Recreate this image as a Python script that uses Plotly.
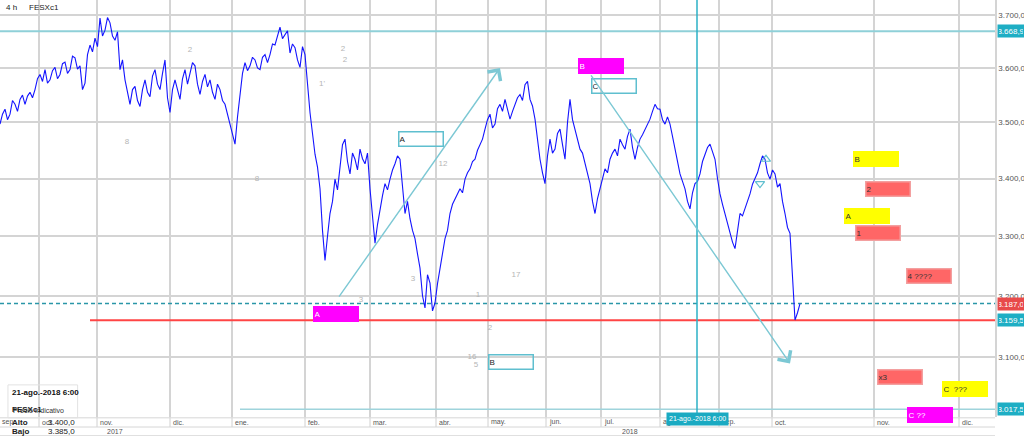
import math
import plotly.graph_objects as go

# ---------------- data ----------------
# price at each step (step = ~1 trading day of 4h bars)
price_step = [3497, 3524, 3515, 3533, 3542, 3533, 3555, 3560, 3588, 3597,
              3578, 3601, 3588, 3611, 3597, 3619, 3604, 3572, 3643, 3656,
              3694, 3671, 3685, 3652, 3597, 3578, 3533, 3566, 3529, 3578,
              3547, 3597, 3560, 3615, 3518, 3578, 3542, 3597, 3588, 3604,
              3551, 3588, 3578, 3542, 3560, 3533, 3497, 3461, 3551, 3610,
              3604, 3615, 3597, 3625, 3625, 3643, 3677, 3662, 3628, 3638,
              3601, 3625, 3518, 3443, 3382, 3259, 3339, 3399, 3417, 3470,
              3408, 3434, 3452, 3426, 3382, 3288, 3347, 3391, 3399, 3426,
              3434, 3339, 3330, 3296, 3246, 3180, 3221, 3188, 3246, 3296,
              3339, 3365, 3382, 3399, 3417, 3434, 3461, 3488, 3515, 3497,
              3533, 3542, 3506, 3533, 3551, 3569, 3542, 3506, 3434, 3391,
              3470, 3452, 3488, 3434, 3542, 3488, 3452, 3426, 3391, 3339,
              3382, 3417, 3434, 3452, 3470, 3452, 3488, 3434, 3470, 3488,
              3506, 3533, 3524, 3497, 3497, 3452, 3408, 3382, 3347, 3391,
              3408, 3443, 3461, 3434, 3373, 3339, 3305, 3279, 3339, 3347,
              3373, 3399, 3426, 3434, 3399, 3408, 3391, 3339, 3305, 3160, 3187]
# intra-step swing (value half-way between two steps)
price_mid = [3515, 3505, 3540, 3520, 3550, 3548, 3545, 3580, 3575, 3572,
             3595, 3580, 3608, 3590, 3622, 3598, 3560, 3625, 3630, 3640,
             3660, 3695, 3660, 3668, 3615, 3555, 3560, 3540, 3560, 3555,
             3585, 3570, 3590, 3545, 3560, 3560, 3580, 3570, 3610, 3570,
             3575, 3565, 3555, 3570, 3540, 3515, 3480, 3510, 3590, 3595,
             3620, 3600, 3620, 3610, 3645, 3660, 3655, 3670, 3645, 3615,
             3640, 3570, 3480, 3420, 3310, 3300, 3360, 3380, 3460, 3430,
             3445, 3415, 3435, 3445, 3330, 3320, 3370, 3380, 3415, 3440,
             3380, 3360, 3310, 3270, 3200, 3235, 3175, 3220, 3270, 3310,
             3355, 3372, 3375, 3410, 3430, 3450, 3470, 3505, 3490, 3525,
             3520, 3525, 3520, 3545, 3540, 3575, 3530, 3470, 3410, 3440,
             3445, 3480, 3460, 3500, 3505, 3470, 3445, 3405, 3360, 3365,
             3400, 3410, 3445, 3440, 3460, 3475, 3455, 3455, 3478, 3495,
             3520, 3525, 3505, 3510, 3475, 3430, 3395, 3360, 3375, 3395,
             3430, 3455, 3445, 3400, 3355, 3320, 3290, 3310, 3335, 3360,
             3390, 3410, 3440, 3410, 3415, 3385, 3360, 3315, 3240, 3172]

month_pos = [7.8, 19.4, 34, 46.4, 61, 74, 87.2, 97.6, 109.2, 120.2, 132, 143.8, 154.4, 174.8, 191.8]
month_lbl = ["oct.", "nov.", "dic.", "ene.", "feb.", "mar.", "abr.", "may.", "jun.", "jul.",
             "ago.", "sep.", "oct.", "nov.", "dic."]
year_start = 46.4
year_pos = [23.0, 125.9]
year_lbl = ["2017", "2018"]

price_ticks = [3100, 3200, 3300, 3400, 3500, 3600, 3700]
price_tick_txt = ["3.100,0", "3.200,0", "3.300,0", "3.400,0", "3.500,0", "3.600,0", "3.700,0"]

level_top = 3668.9
level_last = 3187.0
level_low = 3159.5
level_bottom = 3017.5

cross_x = 139.4
cross_lbl = "21-ago.-2018 6:00"

# labelled boxes: (x centre, price centre, text, fill, border, text colour)
boxes = [
    (67.1, 3170.2, "A", "#ff00ff", "#ff00ff", "white"),
    (120.2, 3603.7, "B", "#ff00ff", "#ff00ff", "white"),
    (84.1, 3471.0, "A", "rgba(255,255,255,0)", "#5fbfcf", "#222"),
    (122.7, 3566.7, "C", "rgba(255,255,255,0)", "#5fbfcf", "#222"),
    (102.1, 3092.3, "B", "rgba(255,255,255,0)", "#5fbfcf", "#222"),
    (175.1, 3434.4, "B", "#ffff00", "#ffff00", "#333"),
    (177.6, 3381.7, "2", "#ff6666", "#f3a0a0", "#333"),
    (173.3, 3334.7, "A", "#ffff00", "#ffff00", "#333"),
    (175.6, 3305.6, "1", "#ff6666", "#f3a0a0", "#333"),
    (185.8, 3232.9, "4 ????", "#ff6666", "#f3a0a0", "#333"),
    (179.9, 3067.6, "x3", "#ff6666", "#f3a0a0", "#333"),
    (193.0, 3049.0, "C  ???", "#ffff00", "#ffff00", "#333"),
]

# arrows: (start x, start price, end x, end price)
arrows = [(67.6, 3196, 100.0, 3600), (118.0, 3589, 158.0, 3090)]

# faint wave labels
faint_x = [38, 68.6, 69, 64.4, 25.4, 51.4, 82.6, 72.2, 88.6, 103.2, 95.6, 98, 94.4, 95.2]
faint_y = [3634, 3636, 3614, 3571, 3464, 3399, 3227, 3193, 3426, 3234, 3202, 3147, 3100, 3088]
faint_t = ["2", "2", "2", "1'", "8", "8", "3", "3", "12", "17", "1", "2", "16", "5"]

FONT = "Liberation Sans, Arial, sans-serif"
XMAX = 199
YLO, YHI = 3005.5, 3728.8

# interleave step values and mid swings
xs, ys = [], []
for i, v in enumerate(price_step):
    xs.append(i)
    ys.append(v)
    if i < len(price_mid):
        xs.append(i + 0.5)
        ys.append(price_mid[i])

fig = go.Figure()

# level lines
fig.add_trace(go.Scatter(x=[0, XMAX], y=[level_top] * 2, mode="lines",
                         line=dict(color="#8fd0d8", width=2), hoverinfo="skip"))
fig.add_trace(go.Scatter(x=[48, XMAX], y=[level_bottom] * 2, mode="lines",
                         line=dict(color="#9fd4dc", width=1.5), hoverinfo="skip"))
fig.add_trace(go.Scatter(x=[0, XMAX], y=[level_last] * 2, mode="lines",
                         line=dict(color="#2a96a8", width=1.5, dash="4px,3px"), hoverinfo="skip"))
fig.add_trace(go.Scatter(x=[18, XMAX], y=[level_low] * 2, mode="lines",
                         line=dict(color="#ff4545", width=2), hoverinfo="skip"))

# price
fig.add_trace(go.Scatter(x=xs, y=ys, mode="lines",
                         line=dict(color="#1414ff", width=1.1)))

# faint labels
fig.add_trace(go.Scatter(x=faint_x, y=faint_y, mode="text", text=faint_t,
                         textfont=dict(family=FONT, size=8, color="#b5b5b5")))

# small triangles
fig.add_trace(go.Scatter(x=[153.2, 152.0], y=[3434, 3391], mode="markers",
                         marker=dict(symbol=["triangle-up-open", "triangle-down-open"],
                                     size=8, color="#5fbfcf", line=dict(width=1.2))))

shapes = []
# year boundary (slightly darker)
shapes.append(dict(type="line", xref="x", yref="paper", x0=year_start, x1=year_start, y0=0, y1=1,
                   line=dict(color="#bdbdbd", width=1.5), layer="below"))
# crosshair
shapes.append(dict(type="line", xref="x", yref="paper", x0=cross_x, x1=cross_x, y0=-0.01, y1=1,
                   line=dict(color="#2bb0c6", width=1.5)))
# label-row separators
for p in month_pos:
    shapes.append(dict(type="line", xref="x", yref="paper", x0=p, x1=p, y0=-0.024, y1=0,
                       line=dict(color="#d0d0d0", width=1)))
for yy in [-0.002, -0.024, -0.045]:
    shapes.append(dict(type="line", xref="paper", yref="paper", x0=0, x1=1, y0=yy, y1=yy,
                       line=dict(color="#d6d6d6", width=1)))
# info box outline
shapes.append(dict(type="rect", xref="paper", yref="paper", x0=0.008, x1=0.078, y0=-0.002, y1=0.077,
                   line=dict(color="#e2e2e2", width=1)))

ann = []
for (x, y, t, bg, bc, fc) in boxes:
    ann.append(dict(x=x, y=math.log10(y), xref="x", yref="y", text=t, showarrow=False,
                    width=43, height=13, align="left", bgcolor=bg, bordercolor=bc, borderwidth=1.5,
                    borderpad=0, font=dict(family=FONT, size=8, color=fc)))
ann.append(dict(x=186.0, y=-0.0144, xref="x", yref="paper", text="C ??", showarrow=False,
                width=43, height=13, align="left", bgcolor="#ff00ff", bordercolor="#ff00ff",
                borderwidth=1.5, borderpad=0, font=dict(family=FONT, size=8, color="white")))

for (x0, y0, x1, y1) in arrows:
    ann.append(dict(x=x1, y=math.log10(y1), ax=x0, ay=math.log10(y0), xref="x", yref="y",
                    axref="x", ayref="y", text="", showarrow=True, arrowhead=4, arrowsize=2.2,
                    arrowwidth=1.4, arrowcolor="#7cc8d4"))

# right-side value tags
for val, col in [(level_top, "#1eaec4"), (level_last, "#e84a4a"), (level_low, "#1eaec4"),
                 (level_bottom, "#1eaec4")]:
    ann.append(dict(x=1, xref="paper", y=math.log10(val), yref="y", xanchor="left", xshift=2,
                    text=f"{val:,.1f}".replace(",", "X").replace(".", ",").replace("X", "."),
                    showarrow=False, bgcolor=col, borderpad=1, width=24, height=10,
                    font=dict(family=FONT, size=8, color="white")))

# month and year labels
for p, t in zip(month_pos, month_lbl):
    ann.append(dict(x=p, xref="x", y=-0.0125, yref="paper", xanchor="left", yanchor="middle",
                    xshift=1, text=t, showarrow=False, font=dict(family=FONT, size=7, color="#555")))
ann.append(dict(x=0, xref="paper", y=-0.0125, yref="paper", xanchor="left", yanchor="middle",
                text="sep", showarrow=False, font=dict(family=FONT, size=7, color="#555")))
for p, t in zip(year_pos, year_lbl):
    ann.append(dict(x=p, xref="x", y=-0.034, yref="paper", xanchor="center", yanchor="middle",
                    text=t, showarrow=False, font=dict(family=FONT, size=7, color="#555")))

# crosshair date tag
ann.append(dict(x=cross_x, xref="x", y=-0.022, yref="paper", text=cross_lbl, showarrow=False,
                bgcolor="#1aaac2", borderpad=2, font=dict(family=FONT, size=7, color="white")))

# header
ann.append(dict(x=0.004, y=0.983, xref="paper", yref="paper", xanchor="left", yanchor="middle",
                text="4 h", showarrow=False, font=dict(family=FONT, size=8, color="#222")))
ann.append(dict(x=0.027, y=0.983, xref="paper", yref="paper", xanchor="left", yanchor="middle",
                text="FESXc1", showarrow=False, font=dict(family=FONT, size=8, color="#222")))

# info box
ann.append(dict(x=0.010, y=0.0576, xref="paper", yref="paper", xanchor="left", yanchor="middle",
                text="<b>21-ago.-2018 6:00</b>", showarrow=False, font=dict(family=FONT, size=8, color="#111")))
ann.append(dict(x=0.011, y=0.0144, xref="paper", yref="paper", xanchor="left", yanchor="middle",
                text="Precio indicativo", showarrow=False, font=dict(family=FONT, size=7, color="#333")))
ann.append(dict(x=0.010, y=0.019, xref="paper", yref="paper", xanchor="left", yanchor="middle",
                text="<b>FESXc1</b>", showarrow=False, font=dict(family=FONT, size=8, color="#222")))
ann.append(dict(x=0.010, y=-0.012, xref="paper", yref="paper", xanchor="left", yanchor="middle",
                text="<b>Alto</b>", showarrow=False, font=dict(family=FONT, size=8, color="#222")))
ann.append(dict(x=0.046, y=-0.012, xref="paper", yref="paper", xanchor="left", yanchor="middle",
                text="3.400,0", showarrow=False, font=dict(family=FONT, size=8, color="#222")))
ann.append(dict(x=0.010, y=-0.0336, xref="paper", yref="paper", xanchor="left", yanchor="middle",
                text="<b>Bajo</b>", showarrow=False, font=dict(family=FONT, size=8, color="#222")))
ann.append(dict(x=0.046, y=-0.0336, xref="paper", yref="paper", xanchor="left", yanchor="middle",
                text="3.385,0", showarrow=False, font=dict(family=FONT, size=8, color="#222")))

fig.update_layout(
    width=1024, height=436,
    margin=dict(l=0, r=29, t=0, b=19),
    paper_bgcolor="white", plot_bgcolor="white",
    showlegend=False,
    font=dict(family=FONT, size=8, color="#555"),
    shapes=shapes, annotations=ann,
    xaxis=dict(range=[0, XMAX], tickvals=month_pos, showticklabels=False, ticks="",
               showgrid=True, gridcolor="#d4d4d4", gridwidth=1.5, zeroline=False,
               showline=False, fixedrange=True),
    yaxis=dict(type="log", range=[math.log10(YLO), math.log10(YHI)], side="right",
               tickvals=price_ticks, ticktext=price_tick_txt, ticks="",
               tickfont=dict(family=FONT, size=8, color="#555"),
               showgrid=True, gridcolor="#d4d4d4", gridwidth=1.5, zeroline=False,
               showline=True, linecolor="#d4d4d4", linewidth=1.5, automargin=False, fixedrange=True),
)

fig.write_html("out.html", config={"displayModeBar": False},
               post_script="document.body.style.margin='0';document.body.style.overflow='hidden';")
